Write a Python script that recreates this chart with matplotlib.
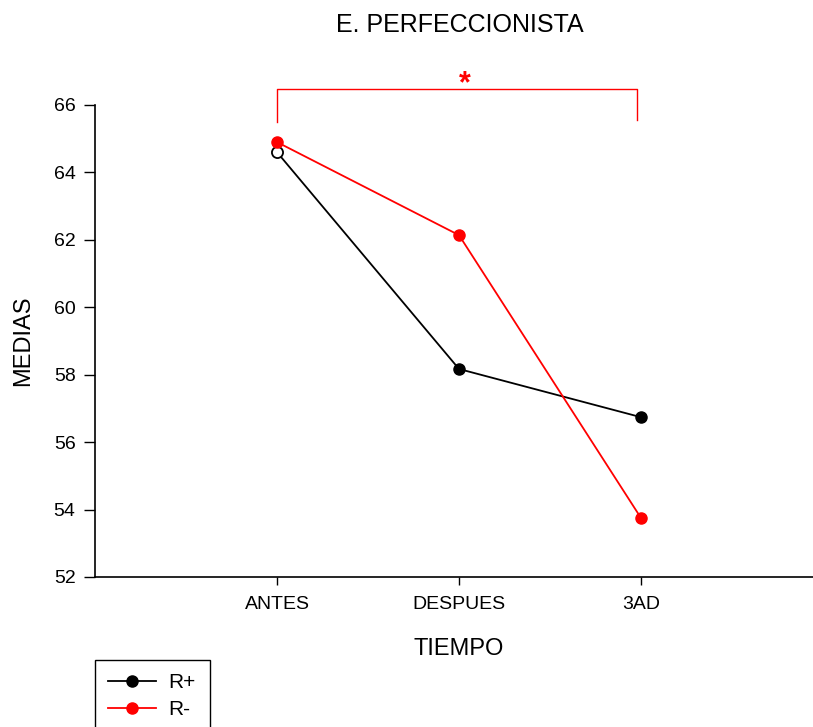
import matplotlib.pyplot as plt
import numpy as np
from matplotlib.patches import Rectangle

plt.rcParams['font.family'] = ['Liberation Sans', 'DejaVu Sans']

# data
tiempo = ["ANTES", "DESPUES", "3AD"]
r_plus = [64.6, 58.17, 56.74]
r_minus = [64.9, 62.14, 53.75]

x = np.arange(1, len(tiempo) + 1)

fig = plt.figure(figsize=(8.13, 7.27), dpi=100)
ax = fig.add_axes([95/813, 150/727, 728/813, 472/727])

# R+ line (first point open)
ax.plot(x, r_plus, color="black", lw=1.3, zorder=2)
ax.plot(x[1:], r_plus[1:], 'o', color="black", ms=8, zorder=3)
ax.plot(x[:1], r_plus[:1], 'o', mfc="white", mec="black", mew=1.3, ms=8, zorder=3)
# R- line
ax.plot(x, r_minus, '-o', color="red", lw=1.3, ms=8, zorder=4)

# significance bracket
ax.plot([1, 1, 2.98, 2.98], [65.5, 66.47, 66.47, 65.55], color="red", lw=1, clip_on=False)
ax.text(2.03, 66.62, "*", color="red", ha="center", va="center", fontsize=22, fontweight="bold")

ax.set_xlim(0, 4)
ax.set_ylim(52, 66)
ax.set_xticks(x)
ax.set_xticklabels(tiempo)
ax.set_yticks(np.arange(52, 67, 2))
ax.tick_params(axis='y', length=8, width=1, labelsize=14, pad=6)
ax.tick_params(axis='x', length=6, width=1, labelsize=14, pad=8)
ax.spines['top'].set_visible(False)
ax.spines['right'].set_visible(False)
ax.spines['left'].set_linewidth(1.2)
ax.spines['bottom'].set_linewidth(1.2)

ax.set_xlabel("TIEMPO", fontsize=17, labelpad=18)
ax.set_ylabel("MEDIAS", fontsize=17, labelpad=14)
fig.text(460/813, 1 - 25/727, "E. PERFECCIONISTA", ha="center", va="center", fontsize=18)

# legend (box runs off the bottom edge)
fig.patches.append(Rectangle((95/813, -0.02), 115/813, 0.02 + 67/727, transform=fig.transFigure,
                             fill=False, edgecolor="black", lw=1))
h1, = ax.plot([], [], '-o', color="black", lw=1.3, ms=8)
h2, = ax.plot([], [], '-o', color="red", lw=1.3, ms=8)
fig.legend([h1, h2], ["R+", "R-"], loc="upper left",
           bbox_to_anchor=(108/813, 1 - 673/727), fontsize=15,
           frameon=False, handlelength=2.3, handletextpad=0.6,
           borderpad=0, labelspacing=0.4, borderaxespad=0)

plt.savefig("out.png", dpi=100)
